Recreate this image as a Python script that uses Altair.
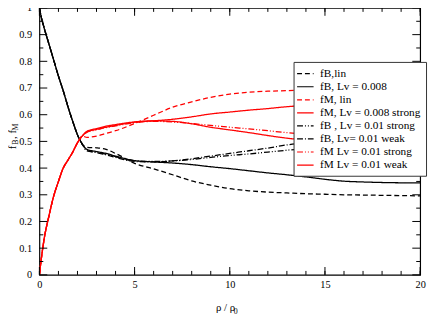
import altair as alt
import pandas as pd

# ---- data ----
x_early = [0, 0.1, 0.25, 0.5, 0.75, 1.0, 1.25, 1.5, 1.75, 2.0, 2.25]
x_tail = [2.5, 3, 3.5, 4, 5, 6, 7, 8, 9, 10, 11, 12, 13, 14, 15, 16, 17, 18, 19, 20]

fB_early = [1.0, 0.965, 0.925, 0.865, 0.805, 0.745, 0.69, 0.63, 0.575, 0.525, 0.49]
fM_early = [0.0, 0.06, 0.135, 0.22, 0.295, 0.35, 0.40, 0.43, 0.46, 0.495, 0.52]

fB_lin = [0.478, 0.476, 0.47, 0.455, 0.418, 0.397, 0.375, 0.352, 0.336, 0.323, 0.315, 0.31, 0.307, 0.304, 0.302, 0.30, 0.299, 0.298, 0.297, 0.296]
fB_008 = [0.47, 0.462, 0.455, 0.445, 0.428, 0.423, 0.419, 0.413, 0.405, 0.398, 0.39, 0.382, 0.375, 0.367, 0.358, 0.351, 0.348, 0.346, 0.345, 0.345]
fM_lin = [0.515, 0.52, 0.53, 0.54, 0.567, 0.598, 0.628, 0.648, 0.665, 0.677, 0.684, 0.688, 0.69, 0.693, 0.695, 0.697, 0.698, 0.699, 0.70, 0.70]
fM_008 = [0.535, 0.545, 0.553, 0.56, 0.572, 0.577, 0.583, 0.592, 0.603, 0.61, 0.617, 0.623, 0.63, 0.635, 0.64, 0.645, 0.648, 0.65, 0.653, 0.655]
fB_01s = [0.465, 0.46, 0.452, 0.443, 0.428, 0.425, 0.427, 0.432, 0.44, 0.447, 0.453, 0.46, 0.467, 0.473, 0.478, 0.483, 0.488, 0.492, 0.496, 0.50]
fB_01w = [0.465, 0.458, 0.45, 0.44, 0.425, 0.423, 0.427, 0.435, 0.445, 0.455, 0.465, 0.475, 0.487, 0.495, 0.502, 0.507, 0.511, 0.515, 0.518, 0.52]
fM_01s = [0.535, 0.543, 0.552, 0.558, 0.57, 0.575, 0.573, 0.567, 0.56, 0.553, 0.547, 0.54, 0.533, 0.527, 0.522, 0.517, 0.513, 0.509, 0.506, 0.503]
fM_01w = [0.538, 0.548, 0.557, 0.563, 0.573, 0.577, 0.575, 0.566, 0.553, 0.543, 0.533, 0.522, 0.512, 0.505, 0.498, 0.493, 0.49, 0.487, 0.484, 0.48]

series_names = [
    "fB,lin",
    "fB, Lv = 0.008",
    "fM, lin",
    "fM, Lv = 0.008 strong",
    "fB , Lv = 0.01 strong",
    "fB, Lv= 0.01 weak",
    "fM Lv = 0.01 strong",
    "fM Lv = 0.01 weak",
]
series_tails = [fB_lin, fB_008, fM_lin, fM_008, fB_01s, fB_01w, fM_01s, fM_01w]
series_is_B = [True, True, False, False, True, True, False, False]
series_colors = ["black", "black", "red", "red", "black", "black", "red", "red"]
series_dashes = [[5, 3], [1, 0], [5, 3], [1, 0], [6, 2, 1, 2, 1, 2], [6, 2, 1, 2], [6, 2, 1, 2, 1, 2], [1, 0]]

x_major = [0, 5, 10, 15, 20]
x_minor = list(range(0, 21))
y_major = [0, 0.1, 0.2, 0.3, 0.4, 0.5, 0.6, 0.7, 0.8, 0.9, 1.0]
y_minor = [0.05, 0.15, 0.25, 0.35, 0.45, 0.55, 0.65, 0.75, 0.85, 0.95]

rows = []
for name, tail, isB in zip(series_names, series_tails, series_is_B):
    early = fB_early if isB else fM_early
    for xv, yv in zip(x_early + x_tail, early + tail):
        rows.append({"x": xv, "y": yv, "series": name})
df = pd.DataFrame(rows)

W, H = 388, 272
LEFT = 32
FONT = "Liberation Serif"

xscale = alt.Scale(domain=[0, 20], nice=False, zero=False)
yscale = alt.Scale(domain=[0, 1], nice=False, zero=False)
xaxis = alt.Axis(values=x_major, format="d", title=None, ticks=False, tickSize=0,
                 domain=False, grid=False, labelPadding=5, labelOverlap=False,
                 labelFlush=False)
yaxis = alt.Axis(values=y_major, format="~g", title=None, ticks=False, tickSize=0,
                 domain=False, grid=False, labelPadding=8, labelOverlap=False,
                 labelFlush=False)

lines = alt.Chart(df).mark_line(strokeWidth=1.3, interpolate="monotone", clip=True).encode(
    x=alt.X("x:Q", scale=xscale, axis=xaxis),
    y=alt.Y("y:Q", scale=yscale, axis=yaxis),
    color=alt.Color("series:N", scale=alt.Scale(domain=series_names, range=series_colors),
                    sort=series_names, title=None),
    strokeDash=alt.StrokeDash("series:N", scale=alt.Scale(domain=series_names, range=series_dashes),
                              sort=series_names, title=None),
    detail="series:N",
)

def ticks_x(vals, length, top):
    d = pd.DataFrame({"v": vals})
    if top:
        enc = dict(y=alt.value(0), y2=alt.value(length))
    else:
        enc = dict(y=alt.value(H), y2=alt.value(H - length))
    return alt.Chart(d).mark_rule(color="black", strokeWidth=1).encode(
        x=alt.X("v:Q", scale=xscale, axis=xaxis), **enc)

def ticks_y(vals, length, right):
    d = pd.DataFrame({"v": vals})
    if right:
        enc = dict(x=alt.value(W), x2=alt.value(W - length))
    else:
        enc = dict(x=alt.value(0), x2=alt.value(length))
    return alt.Chart(d).mark_rule(color="black", strokeWidth=1).encode(
        y=alt.Y("v:Q", scale=yscale, axis=yaxis), **enc)

tick_layers = [
    ticks_x(x_major, 8, False), ticks_x(x_minor, 4, False),
    ticks_x(x_major, 8, True), ticks_x(x_minor, 4, True),
    ticks_y(y_major, 8, False), ticks_y(y_minor, 4, False),
    ticks_y(y_major, 8, True), ticks_y(y_minor, 4, True),
]

one = pd.DataFrame({"a": [0]})

def txt(s, x, y, size, angle=0):
    return alt.Chart(one).mark_text(
        text=s, font=FONT, fontSize=size, color="black", align="left",
        baseline="alphabetic", angle=angle,
    ).encode(x=alt.value(x), y=alt.value(y))

titles = [
    # x title: rho / rho_0
    txt("ρ / ρ", 180, 309, 11),
    txt("0", 198, 312, 8),
    # y title: f_B, f_M (rotated)
    txt("f", -24, 144, 11, 270),
    txt("B", -21.5, 139.5, 8, 270),
    txt(", f", -24, 133.5, 11, 270),
    txt("M", -21.5, 125, 8, 270),
]

chart = alt.layer(lines, *tick_layers, *titles).properties(
    width=W, height=H,
    padding={"left": LEFT, "top": -3, "right": 8, "bottom": 40},
    autosize=alt.AutoSizeParams(type="none"),
).configure_view(
    stroke="black", strokeWidth=1.2
).configure_axis(
    labelFont=FONT, labelFontSize=10.5, labelColor="black",
).configure_legend(
    orient="none", legendX=259, legendY=55,
    strokeColor="#333333", fillColor="white", padding=5,
    labelFont=FONT, labelFontSize=11.5, labelColor="black",
    symbolType="M-1.4,0L1.4,0", symbolSize=144, symbolStrokeWidth=1.2,
    symbolFillColor="transparent",
    rowPadding=0.3, labelOffset=8, cornerRadius=0,
)

chart.save("out.html", embed_options={"renderer": "svg", "actions": False})
